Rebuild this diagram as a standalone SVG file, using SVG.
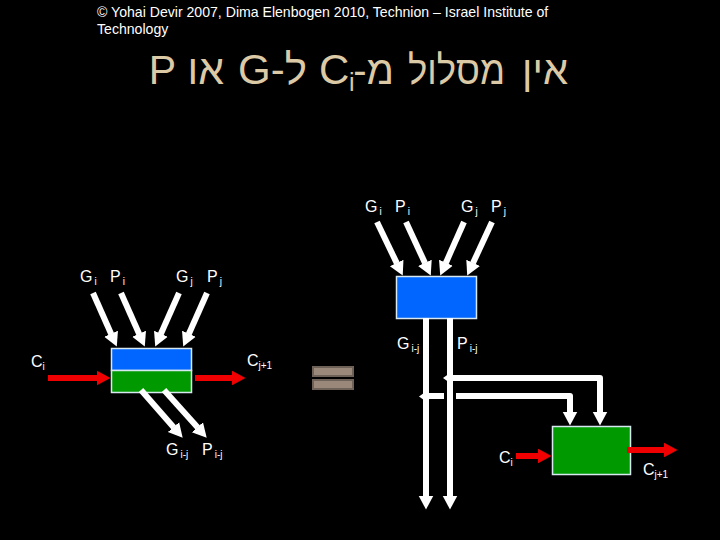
<svg xmlns="http://www.w3.org/2000/svg" width="720" height="540" viewBox="0 0 720 540">
<defs>
<marker id="wh" markerUnits="userSpaceOnUse" markerWidth="18" markerHeight="18" refX="0.5" refY="9" orient="auto"><path d="M0 1.500L14 9L0 16.500Z" fill="#fff"/></marker>
<marker id="rh" markerUnits="userSpaceOnUse" markerWidth="18" markerHeight="18" refX="0.5" refY="9" orient="auto"><path d="M0 1.500L14 9L0 16.500Z" fill="#f00000"/></marker>
</defs>
<style>
text{font-family:"Liberation Sans",Arial,sans-serif}
.w{fill:none;stroke:#fff;stroke-width:6;stroke-linejoin:round;marker-end:url(#wh)}
.wp{fill:none;stroke:#fff;stroke-width:6}
.r{fill:none;stroke:#f00000;stroke-width:6;marker-end:url(#rh)}
.b{stroke:#d8e8f0;stroke-width:1.5}
.lb{fill:#fff;font-size:16px}
.s{font-size:10px}
.t{fill:#dcc9a6;font-size:42px}
.h{fill:#dcc9a6;font-size:40px}
.e{fill:#9a897b;stroke:#6e6258;stroke-width:2}
</style>
<rect width="720" height="540" fill="#000"/>
<text x="97" y="17" fill="#fff" font-size="14.1">© Yohai Devir 2007, Dima Elenbogen 2010, Technion – Israel Institute of</text>
<text x="97" y="34" fill="#fff" font-size="14.1">Technology</text>
<g id="title">
<text class="h" x="568" y="84" direction="rtl" xml:lang="he">אין</text>
<text class="h" x="505" y="84" direction="rtl" xml:lang="he" textLength="97" lengthAdjust="spacingAndGlyphs">מסלול</text>
<text class="h" x="394" y="84" direction="rtl" xml:lang="he">מ-</text>
<text class="t" x="319" y="84">C</text>
<text class="t" x="349" y="91" style="font-size:25px">i</text>
<text class="t" x="307" y="84" direction="rtl" xml:lang="he">ל-G</text>
<text class="t" x="224" y="84" direction="rtl" xml:lang="he" style="font-size:41px">או P</text>
</g>
<g id="left-block"><rect class="b" x="111.5" y="348.5" width="80" height="22" fill="#0066ff"/><rect class="b" x="111.5" y="370.5" width="80" height="22" fill="#009900"/></g>
<g id="right-top-block"><rect class="b" x="396.5" y="276.5" width="80" height="42" fill="#0066ff"/></g>
<g id="right-bottom-block"><rect class="b" x="552.5" y="426.5" width="78" height="48" fill="#009900"/></g>
<g id="equals"><rect class="e" x="313" y="367" width="40" height="9"/><rect class="e" x="313" y="380" width="40" height="9"/></g>
<g id="connectors">
<path class="w" d="M93 293L111.3 334.2"/><path class="w" d="M121 293L139.3 334.2"/><path class="w" d="M179 293L160.7 334.2"/><path class="w" d="M207 293L188.7 334.2"/>
<path class="r" d="M48 378H97"/><path class="r" d="M195 378H232"/>
<path class="w" d="M141 390L173.8 427.5"/><path class="w" d="M164 390L197.7 427.6"/>
<path class="w" d="M377 222L396.9 263.4"/><path class="w" d="M406 222L425.1 263.3"/><path class="w" d="M464 222L445.7 263.2"/><path class="w" d="M492 222L472.9 263.3"/>
<path class="w" d="M426 318V496"/><path class="w" d="M450 318V496"/>
<path class="w" d="M448 378H600V412"/>
<path class="wp" d="M426 396H444"/>
<path class="w" d="M456 396H570V412"/>
<path d="M443 378L450 373L457 378L450 383Z" fill="#fff"/><path d="M419 396.500L426 391.500L433 396.500L426 401.500Z" fill="#fff"/>
<path class="r" d="M516 456H538"/><path class="r" d="M627 450H664"/>
</g>
<g id="labels">
<text class="lb" x="80" y="282">G<tspan class="s" dx="2" dy="3">i</tspan></text>
<text class="lb" x="110" y="282">P<tspan class="s" dx="2" dy="3">i</tspan></text>
<text class="lb" x="176" y="282">G<tspan class="s" dx="2" dy="3">j</tspan></text>
<text class="lb" x="207" y="282">P<tspan class="s" dx="2" dy="3">j</tspan></text>
<text class="lb" x="31" y="367">C<tspan class="s" dy="3">i</tspan></text>
<text class="lb" x="247" y="366">C<tspan class="s" dy="3">j+1</tspan></text>
<text class="lb" x="166" y="455">G<tspan class="s" dx="2" dy="3">i-j</tspan></text>
<text class="lb" x="202" y="455">P<tspan class="s" dx="2" dy="3">i-j</tspan></text>
<text class="lb" x="365" y="212">G<tspan class="s" dx="2" dy="3">i</tspan></text>
<text class="lb" x="395" y="212">P<tspan class="s" dx="2" dy="3">i</tspan></text>
<text class="lb" x="461" y="212">G<tspan class="s" dx="2" dy="3">j</tspan></text>
<text class="lb" x="491" y="212">P<tspan class="s" dx="2" dy="3">j</tspan></text>
<text class="lb" x="397" y="349">G<tspan class="s" dx="2" dy="3">i-j</tspan></text>
<text class="lb" x="457" y="349">P<tspan class="s" dx="2" dy="3">i-j</tspan></text>
<text class="lb" x="499" y="463">C<tspan class="s" dy="3">i</tspan></text>
<text class="lb" x="643" y="475">C<tspan class="s" dy="3">j+1</tspan></text>
</g>
</svg>
